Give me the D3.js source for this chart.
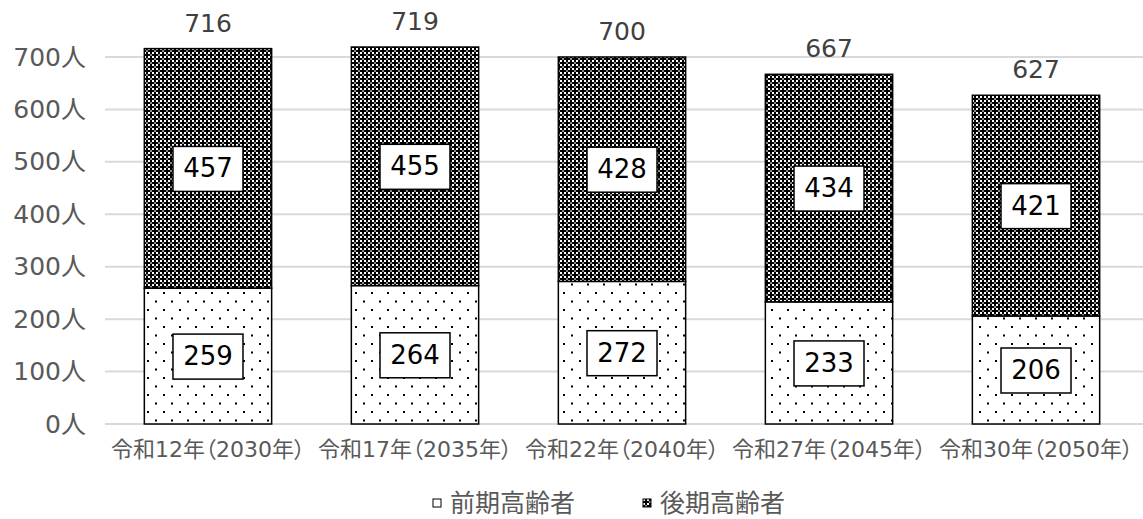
<!DOCTYPE html>
<html>
<head>
<meta charset="utf-8">
<script src="https://cdn.jsdelivr.net/npm/d3@7"></script>
<style>
  body { margin: 0; background: #fff; }
  svg text { font-family: "DejaVu Sans", "Noto Sans CJK JP", sans-serif; }
  .cat { font-feature-settings: "palt"; }
</style>
</head>
<body>
<svg id="chart" width="1143" height="519"></svg>
<script>
const categories = ["令和12年（2030年）", "令和17年（2035年）", "令和22年（2040年）", "令和27年（2045年）", "令和30年（2050年）"];
const seriesNames = ["前期高齢者", "後期高齢者"];
const early = [259, 264, 272, 233, 206];
const late = [457, 455, 428, 434, 421];
const totals = [716, 719, 700, 667, 627];
const yTicks = [0, 100, 200, 300, 400, 500, 600, 700];

const svg = d3.select("#chart");
const defs = svg.append("defs");

// dotted pattern (前期高齢者)
const dots = defs.append("pattern")
  .attr("id", "dots").attr("patternUnits", "userSpaceOnUse")
  .attr("width", 16).attr("height", 17);
dots.append("rect").attr("width", 16).attr("height", 17).attr("fill", "#fff");
dots.append("rect").attr("x", 3).attr("y", 3).attr("width", 2).attr("height", 2).attr("fill", "#000");
dots.append("rect").attr("x", 11).attr("y", 11.5).attr("width", 2).attr("height", 2).attr("fill", "#000");

// dark checker pattern (後期高齢者)
const dark = defs.append("pattern")
  .attr("id", "dark").attr("patternUnits", "userSpaceOnUse")
  .attr("width", 8).attr("height", 8);
dark.append("rect").attr("width", 8).attr("height", 8).attr("fill", "#000");
[[0, 0], [4, 4], [0, 4], [4, 0]].forEach(([x, y]) =>
  dark.append("rect").attr("x", x).attr("y", y).attr("width", 2).attr("height", 2).attr("fill", "#fff"));
[[2, 2], [6, 6]].forEach(([x, y]) =>
  dark.append("rect").attr("x", x).attr("y", y).attr("width", 2).attr("height", 2).attr("fill", "#8a8a8a"));

const x = d3.scaleBand().domain(categories).range([105, 1139]).paddingInner(0.385).paddingOuter(0.19);
const y = d3.scaleLinear().domain([0, 700]).range([424, 57]);

// gridlines
svg.append("g").selectAll("line").data(yTicks).join("line")
  .attr("x1", 105).attr("x2", 1143)
  .attr("y1", d => y(d)).attr("y2", d => y(d))
  .attr("stroke", "#d9d9d9").attr("stroke-width", 2);

// y labels
svg.append("g").selectAll("text").data(yTicks).join("text")
  .attr("x", 86).attr("y", d => y(d)).attr("dominant-baseline", "central")
  .attr("text-anchor", "end").attr("fill", "#595959").attr("font-size", 25)
  .text(d => d + "人");

const stacked = categories.map((c, i) => ({ c, early: early[i], late: late[i], total: totals[i] }));

const bars = svg.append("g").selectAll("g").data(stacked).join("g");
bars.append("rect")
  .attr("x", d => x(d.c)).attr("width", x.bandwidth())
  .attr("y", d => y(d.early)).attr("height", d => y(0) - y(d.early))
  .attr("fill", "url(#dots)").attr("stroke", "#000").attr("stroke-width", 1.5);
bars.append("rect")
  .attr("x", d => x(d.c)).attr("width", x.bandwidth())
  .attr("y", d => y(d.early + d.late)).attr("height", d => y(d.early) - y(d.early + d.late))
  .attr("fill", "url(#dark)").attr("stroke", "#000").attr("stroke-width", 1.5);

// boxed value labels
function boxLabel(sel, val, mid) {
  const g = sel.append("g")
    .attr("transform", d => `translate(${x(d.c) + x.bandwidth() / 2},${y(mid(d))})`);
  g.append("rect").attr("x", -35).attr("y", -22).attr("width", 70).attr("height", 45)
    .attr("fill", "#fff").attr("stroke", "#000").attr("stroke-width", 1.5);
  g.append("text").attr("text-anchor", "middle").attr("dominant-baseline", "central")
    .attr("font-size", 26).attr("fill", "#000").text(val);
}
boxLabel(bars, d => d.early, d => d.early / 2);
boxLabel(bars, d => d.late, d => d.early + d.late / 2);

// totals
bars.append("text")
  .attr("x", d => x(d.c) + x.bandwidth() / 2).attr("y", d => y(d.total) - 17)
  .attr("text-anchor", "middle").attr("font-size", 25).attr("fill", "#404040")
  .text(d => d.total);

// category labels
svg.append("g").selectAll("text").data(categories).join("text")
  .attr("class", "cat")
  .attr("x", d => x(d) + x.bandwidth() / 2).attr("y", 457)
  .attr("text-anchor", "middle").attr("font-size", 22).attr("fill", "#595959")
  .text(d => d);

// legend
const legend = svg.append("g").selectAll("g").data(seriesNames).join("g")
  .attr("transform", (d, i) => `translate(${433 + i * 210},503)`);
legend.append("rect").attr("x", 0).attr("y", -4).attr("width", 8).attr("height", 8)
  .attr("fill", (d, i) => i ? "url(#dark)" : "#fff").attr("stroke", "#000").attr("stroke-width", 1);
legend.append("text").attr("x", 17).attr("dominant-baseline", "central")
  .attr("font-size", 25).attr("fill", "#595959").text(d => d);
</script>
</body>
</html>
